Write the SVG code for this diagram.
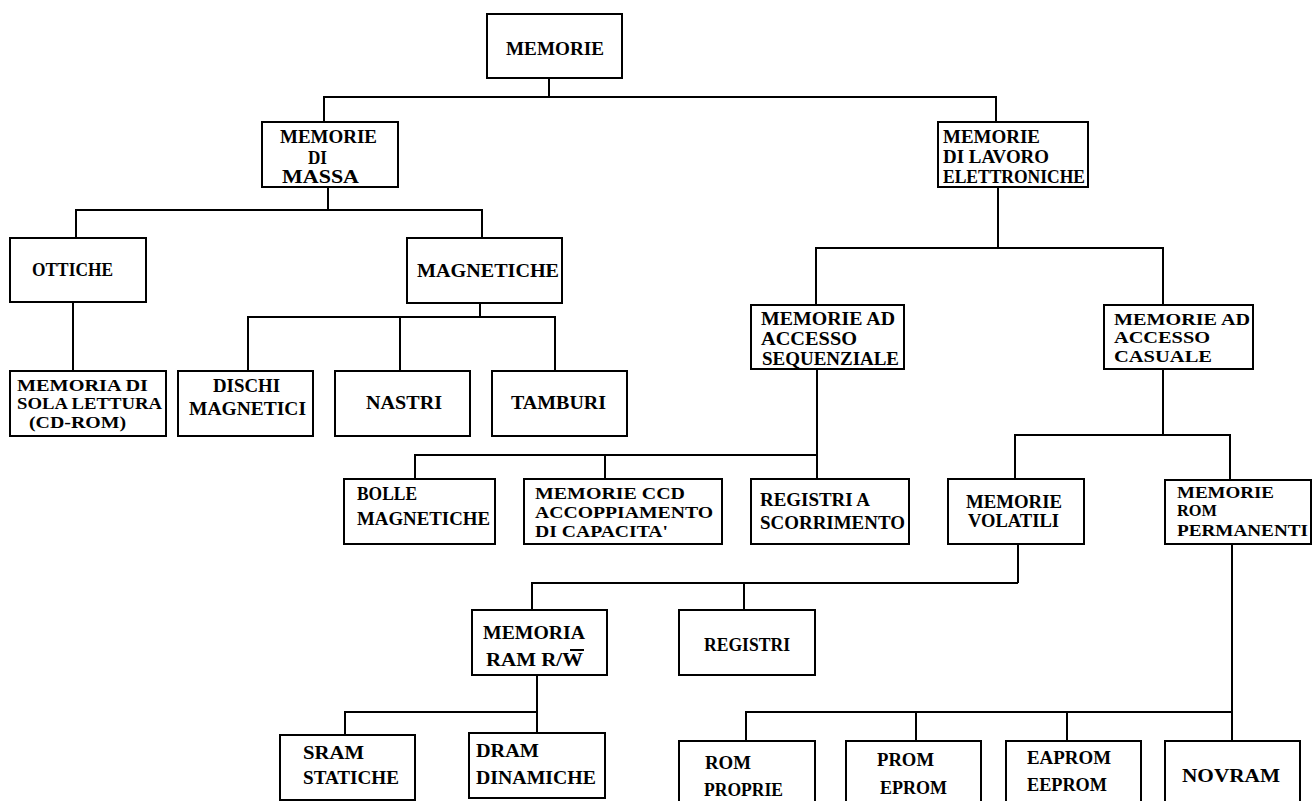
<svg xmlns="http://www.w3.org/2000/svg" width="1312" height="801" viewBox="0 0 1312 801">
<style>
.box{fill:#fff;stroke:#000;stroke-width:2}
.c{fill:none;stroke:#000;stroke-width:2}
text{font-family:"Liberation Serif","Times New Roman",serif;font-size:18px;font-weight:bold;fill:#000}
.t{font-size:16px}
</style>
<rect width="1312" height="801" fill="#fff"/>
<g id="connectors">
<polyline class="c" points="549,78 549,97"/>
<polyline class="c" points="324,122 324,97 996,97 996,122"/>
<polyline class="c" points="328,187 328,210"/>
<polyline class="c" points="76,238 76,210 482,210 482,238"/>
<polyline class="c" points="73,302 73,371"/>
<polyline class="c" points="480,303 480,317"/>
<polyline class="c" points="248,371 248,317 555,317 555,371"/>
<polyline class="c" points="400,317 400,371"/>
<polyline class="c" points="998,187 998,248"/>
<polyline class="c" points="816,305 816,248 1163,248 1163,305"/>
<polyline class="c" points="817,369 817,479"/>
<polyline class="c" points="415,479 415,455 817,455"/>
<polyline class="c" points="605,455 605,479"/>
<polyline class="c" points="1163,369 1163,435"/>
<polyline class="c" points="1015,479 1015,435 1230,435 1230,480"/>
<polyline class="c" points="1018,544 1018,583"/>
<polyline class="c" points="532,610 532,583 1018,583"/>
<polyline class="c" points="744,583 744,610"/>
<polyline class="c" points="537,675 537,733"/>
<polyline class="c" points="345,735 345,712 537,712"/>
<polyline class="c" points="1232,544 1232,741"/>
<polyline class="c" points="746,741 746,712 1232,712"/>
<polyline class="c" points="916,712 916,741"/>
<polyline class="c" points="1067,712 1067,741"/>
</g>
<g id="n-memorie">
<rect class="box" x="487" y="14" width="135" height="64"/>
<text x="506" y="55" textLength="98" lengthAdjust="spacingAndGlyphs">MEMORIE</text>
</g>
<g id="n-massa">
<rect class="box" x="262" y="122" width="136" height="65"/>
<text x="280" y="143" textLength="97" lengthAdjust="spacingAndGlyphs">MEMORIE</text>
<text x="308" y="164" textLength="19" lengthAdjust="spacingAndGlyphs">DI</text>
<text x="282" y="183" textLength="77" lengthAdjust="spacingAndGlyphs">MASSA</text>
</g>
<g id="n-lavoro">
<rect class="box" x="938" y="122" width="150" height="65"/>
<text x="943" y="143" textLength="97" lengthAdjust="spacingAndGlyphs">MEMORIE</text>
<text x="943" y="163" textLength="106" lengthAdjust="spacingAndGlyphs">DI LAVORO</text>
<text x="943" y="183" textLength="142" lengthAdjust="spacingAndGlyphs">ELETTRONICHE</text>
</g>
<g id="n-ottiche">
<rect class="box" x="10" y="238" width="136" height="64"/>
<text x="32" y="276" textLength="81" lengthAdjust="spacingAndGlyphs">OTTICHE</text>
</g>
<g id="n-magnetiche">
<rect class="box" x="407" y="238" width="155" height="65"/>
<text x="417" y="277" textLength="142" lengthAdjust="spacingAndGlyphs">MAGNETICHE</text>
</g>
<g id="n-cdrom">
<rect class="box" x="10" y="371" width="156" height="65"/>
<text class="t" x="17" y="391" textLength="131" lengthAdjust="spacingAndGlyphs">MEMORIA DI</text>
<text class="t" x="17" y="409" textLength="145" lengthAdjust="spacingAndGlyphs">SOLA LETTURA</text>
<text class="t" x="29" y="428" textLength="97" lengthAdjust="spacingAndGlyphs">(CD-ROM)</text>
</g>
<g id="n-dischi">
<rect class="box" x="178" y="371" width="135" height="65"/>
<text x="213" y="392" textLength="67" lengthAdjust="spacingAndGlyphs">DISCHI</text>
<text x="189" y="415" textLength="117" lengthAdjust="spacingAndGlyphs">MAGNETICI</text>
</g>
<g id="n-nastri">
<rect class="box" x="335" y="371" width="135" height="65"/>
<text x="366" y="409" textLength="76" lengthAdjust="spacingAndGlyphs">NASTRI</text>
</g>
<g id="n-tamburi">
<rect class="box" x="492" y="371" width="135" height="65"/>
<text x="511" y="409" textLength="95" lengthAdjust="spacingAndGlyphs">TAMBURI</text>
</g>
<g id="n-sequenziale">
<rect class="box" x="751" y="305" width="153" height="64"/>
<text x="761" y="325" textLength="134" lengthAdjust="spacingAndGlyphs">MEMORIE AD</text>
<text x="761" y="345" textLength="96" lengthAdjust="spacingAndGlyphs">ACCESSO</text>
<text x="762" y="365" textLength="137" lengthAdjust="spacingAndGlyphs">SEQUENZIALE</text>
</g>
<g id="n-casuale">
<rect class="box" x="1104" y="305" width="149" height="64"/>
<text class="t" x="1114" y="325" textLength="136" lengthAdjust="spacingAndGlyphs">MEMORIE AD</text>
<text class="t" x="1114" y="343" textLength="96" lengthAdjust="spacingAndGlyphs">ACCESSO</text>
<text class="t" x="1114" y="362" textLength="98" lengthAdjust="spacingAndGlyphs">CASUALE</text>
</g>
<g id="n-bolle">
<rect class="box" x="344" y="479" width="151" height="65"/>
<text x="357" y="500" textLength="60" lengthAdjust="spacingAndGlyphs">BOLLE</text>
<text x="357" y="525" textLength="133" lengthAdjust="spacingAndGlyphs">MAGNETICHE</text>
</g>
<g id="n-ccd">
<rect class="box" x="524" y="479" width="198" height="65"/>
<text class="t" x="535" y="499" textLength="150" lengthAdjust="spacingAndGlyphs">MEMORIE CCD</text>
<text class="t" x="535" y="518" textLength="178" lengthAdjust="spacingAndGlyphs">ACCOPPIAMENTO</text>
<text class="t" x="535" y="537" textLength="133" lengthAdjust="spacingAndGlyphs">DI CAPACITA'</text>
</g>
<g id="n-scorrimento">
<rect class="box" x="751" y="479" width="158" height="65"/>
<text x="760" y="506" textLength="110" lengthAdjust="spacingAndGlyphs">REGISTRI A</text>
<text x="760" y="529" textLength="145" lengthAdjust="spacingAndGlyphs">SCORRIMENTO</text>
</g>
<g id="n-volatili">
<rect class="box" x="948" y="479" width="136" height="65"/>
<text x="966" y="508" textLength="96" lengthAdjust="spacingAndGlyphs">MEMORIE</text>
<text x="968" y="527" textLength="91" lengthAdjust="spacingAndGlyphs">VOLATILI</text>
</g>
<g id="n-permanenti">
<rect class="box" x="1165" y="480" width="146" height="64"/>
<text class="t" x="1177" y="498" textLength="97" lengthAdjust="spacingAndGlyphs">MEMORIE</text>
<text class="t" x="1177" y="516" textLength="40" lengthAdjust="spacingAndGlyphs">ROM</text>
<text class="t" x="1177" y="536" textLength="131" lengthAdjust="spacingAndGlyphs">PERMANENTI</text>
</g>
<g id="n-ram">
<rect class="box" x="472" y="610" width="135" height="65"/>
<text x="483" y="639" textLength="102" lengthAdjust="spacingAndGlyphs">MEMORIA</text>
<text x="486" y="666" textLength="97" lengthAdjust="spacingAndGlyphs">RAM R/W</text>
<line x1="570" y1="650" x2="584" y2="650" stroke="#000" stroke-width="2"/>
</g>
<g id="n-registri">
<rect class="box" x="679" y="610" width="136" height="65"/>
<text x="704" y="651" textLength="86" lengthAdjust="spacingAndGlyphs">REGISTRI</text>
</g>
<g id="n-sram">
<rect class="box" x="280" y="735" width="135" height="65"/>
<text x="303" y="759" textLength="61" lengthAdjust="spacingAndGlyphs">SRAM</text>
<text x="303" y="784" textLength="96" lengthAdjust="spacingAndGlyphs">STATICHE</text>
</g>
<g id="n-dram">
<rect class="box" x="469" y="733" width="136" height="65"/>
<text x="476" y="757" textLength="63" lengthAdjust="spacingAndGlyphs">DRAM</text>
<text x="476" y="784" textLength="120" lengthAdjust="spacingAndGlyphs">DINAMICHE</text>
</g>
<g id="n-rom">
<rect class="box" x="679" y="741" width="136" height="70"/>
<text x="705" y="769" textLength="46" lengthAdjust="spacingAndGlyphs">ROM</text>
<text x="704" y="796" textLength="79" lengthAdjust="spacingAndGlyphs">PROPRIE</text>
</g>
<g id="n-prom">
<rect class="box" x="846" y="741" width="135" height="70"/>
<text x="877" y="766" textLength="57" lengthAdjust="spacingAndGlyphs">PROM</text>
<text x="880" y="794" textLength="67" lengthAdjust="spacingAndGlyphs">EPROM</text>
</g>
<g id="n-eaprom">
<rect class="box" x="1006" y="741" width="135" height="70"/>
<text x="1027" y="764" textLength="84" lengthAdjust="spacingAndGlyphs">EAPROM</text>
<text x="1027" y="791" textLength="80" lengthAdjust="spacingAndGlyphs">EEPROM</text>
</g>
<g id="n-novram">
<rect class="box" x="1165" y="741" width="135" height="70"/>
<text x="1182" y="782" textLength="98" lengthAdjust="spacingAndGlyphs">NOVRAM</text>
</g>
</svg>
